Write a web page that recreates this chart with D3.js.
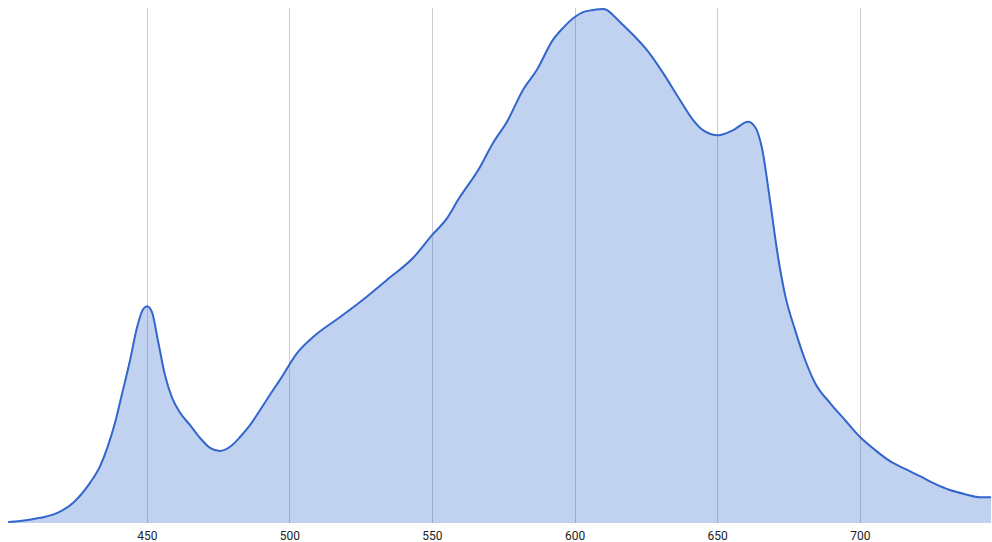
<!DOCTYPE html>
<html>
<head>
<meta charset="utf-8">
<script src="https://cdn.jsdelivr.net/npm/d3@7"></script>
<style>
    body { margin: 0; background: #fff; }
    .axis text { font-family: Roboto, Arial, sans-serif; font-size: 12px; fill: #222; }
</style>
</head>
<body>
<div id="chart"></div>
<script>
// Våglängd (nm) och relativ intensitet
const wavelengths = [401.4, 405.6, 412.6, 418.5, 424.1, 430.1, 433.6, 436.1, 438.9, 441.3, 444.1,
    446.6, 448.7, 450.1, 451.8, 453.9, 456.4, 458.9, 461.7, 465.2, 468.7,
    472.2, 475.7, 479.2, 482.7, 486.2, 489.7, 493.2, 496.7, 502.7, 508.3,
    517.8, 524.8, 534.2, 543.4, 550.0, 555.3, 559.1, 566.8, 571.4, 576.3,
    581.9, 586.8, 592.4, 595.9, 600.2, 603.0, 606.5, 610.0, 611.4, 613.5,
    617.0, 620.5, 625.4, 631.0, 637.0, 641.5, 645.0, 650.3, 655.6, 660.8,
    663.3, 665.7, 668.5, 671.3, 673.8, 677.3, 680.8, 684.3, 689.6, 694.8,
    700.1, 705.3, 710.6, 715.9, 721.1, 726.4, 731.6, 736.9, 742.2, 746.0];
const intensity = [0.2, 0.4, 1.0, 1.9, 3.9, 7.8, 11.0, 14.5, 19.5, 25.0, 31.5,
    38.0, 41.5, 42.1, 41.0, 35.5, 28.7, 24.3, 21.4, 19.0, 16.5,
    14.6, 14.0, 14.8, 16.7, 19.0, 21.9, 24.9, 27.8, 33.0, 36.1,
    40.0, 42.9, 47.2, 51.5, 55.9, 59.2, 62.7, 69.1, 73.8, 77.9,
    84.1, 88.0, 93.8, 96.1, 98.3, 99.2, 99.6, 99.8, 99.6, 98.6,
    96.7, 94.8, 91.8, 87.4, 82.1, 78.3, 76.3, 75.3, 76.3, 77.9,
    76.9, 72.8, 62.7, 51.8, 44.3, 37.5, 31.7, 27.2, 23.3, 20.0,
    16.7, 14.2, 12.0, 10.5, 9.1, 7.6, 6.4, 5.6, 5.0, 5.0];
const xTicks = [450, 500, 550, 600, 650, 700];

const data = wavelengths.map((w, i) => ({ w: w, v: intensity[i] }));

const wSvg = 992, hSvg = 542;
const padLeft = 7, padRight = 991, padTop = 8, padBottom = 523;

const svg = d3.select("#chart").append("svg")
    .attr("width", wSvg)
    .attr("height", hSvg);

const xScale = d3.scaleLinear()
    .domain([401, 746])
    .range([padLeft, padRight]);

const yScale = d3.scaleLinear()
    .domain([0, 100])
    .range([padBottom, padTop]);

// Rutnät
svg.append("g")
    .selectAll("line")
    .data(xTicks)
    .join("line")
    .attr("x1", d => Math.round(xScale(d)) + 0.5)
    .attr("x2", d => Math.round(xScale(d)) + 0.5)
    .attr("y1", padTop)
    .attr("y2", padBottom)
    .attr("stroke", "#cccccc")
    .attr("stroke-width", 1);

// Yta och linje
const area = d3.area()
    .x(d => xScale(d.w))
    .y0(yScale(0))
    .y1(d => yScale(d.v))
    .curve(d3.curveMonotoneX);

const line = d3.line()
    .x(d => xScale(d.w))
    .y(d => yScale(d.v))
    .curve(d3.curveMonotoneX);

svg.append("path")
    .datum(data)
    .attr("fill", "#3366cc")
    .attr("fill-opacity", 0.3)
    .attr("d", area);

svg.append("path")
    .datum(data)
    .attr("fill", "none")
    .attr("stroke", "#3366cc")
    .attr("stroke-width", 2)
    .attr("stroke-linejoin", "round")
    .attr("d", line);

// X-axel
const xAxis = svg.append("g")
    .classed("axis", true)
    .attr("transform", `translate(0, ${padBottom})`)
    .call(d3.axisBottom(xScale).tickValues(xTicks).tickSize(0).tickPadding(8));
xAxis.select(".domain").remove();
</script>
</body>
</html>
